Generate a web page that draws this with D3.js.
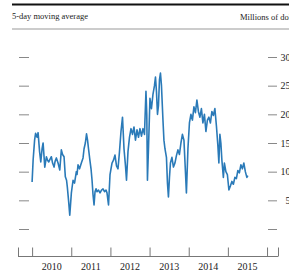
<!DOCTYPE html>
<html><head><meta charset="utf-8">
<script src="https://cdn.jsdelivr.net/npm/d3@7"></script>
<style>html,body{margin:0;padding:0;background:#fff;overflow:hidden}</style>
</head><body>
<svg id="c" width="289" height="274"></svg>
<script>
const title = "5-day moving average";
const unitLabel = "Millions of dollars";
const yTicks = [0, 5, 10, 15, 20, 25, 30];
const yearLabels = ["2010", "2011", "2012", "2013", "2014", "2015"];
const yearTicks = [2010, 2011, 2012, 2013, 2014, 2015, 2016];
const dates = [
2010.000,2010.026,2010.064,2010.089,2010.128,2010.153,2010.191,2010.222,2010.255,2010.281,
2010.324,2010.365,2010.395,2010.426,2010.459,2010.492,2010.523,2010.561,2010.587,2010.620,
2010.663,2010.707,2010.747,2010.778,2010.816,2010.849,2010.880,2010.900,2010.931,2010.962,
2011.003,2011.026,2011.046,2011.084,2011.130,2011.148,2011.173,2011.212,2011.258,2011.301,
2011.327,2011.360,2011.390,2011.416,2011.441,2011.480,2011.505,2011.531,2011.556,2011.582,
2011.607,2011.633,2011.658,2011.696,2011.735,2011.773,2011.811,2011.849,2011.888,2011.913,
2011.952,2011.990,2012.015,2012.041,2012.079,2012.117,2012.156,2012.194,2012.232,2012.270,
2012.309,2012.347,2012.385,2012.411,2012.449,2012.487,2012.526,2012.564,2012.602,2012.640,
2012.679,2012.717,2012.755,2012.793,2012.832,2012.870,2012.908,2012.929,2012.946,2012.972,
2013.010,2013.048,2013.087,2013.125,2013.151,2013.176,2013.202,2013.227,2013.253,2013.278,
2013.304,2013.342,2013.367,2013.393,2013.431,2013.457,2013.482,2013.508,2013.533,2013.571,
2013.610,2013.648,2013.686,2013.724,2013.763,2013.801,2013.839,2013.878,2013.916,2013.941,
2013.980,2014.018,2014.056,2014.094,2014.133,2014.171,2014.209,2014.247,2014.286,2014.324,
2014.362,2014.401,2014.439,2014.477,2014.515,2014.554,2014.592,2014.630,2014.668,2014.707,
2014.745,2014.770,2014.796,2014.821,2014.847,2014.885,2014.911,2014.949,2014.987,2015.026,
2015.064,2015.102,2015.140,2015.179,2015.217,2015.255,2015.293,2015.332,2015.370,2015.408,
2015.446,2015.485,2015.510
];
const values = [
8.2,12,15.5,16.7,16,16.8,13.5,11.7,14,15,
10.8,12.6,12.0,11.7,12.2,12.6,11.5,10.8,11.8,12.4,
11.5,10.3,13.8,13.0,12.6,9.1,8.5,7.3,5,2.4,
6.3,7.5,8.5,8,10,9.5,11.2,10.5,11.5,12.4,
14,15,16.6,15.5,14,11.8,10.5,8.5,6,4.2,
6.5,7,6.5,6.8,6.3,6.8,7,6.5,6.8,6.3,
4.2,9.5,10.5,11.5,12,12.9,11,10.5,13.5,17,
19.5,14,11,8.5,13.5,16,17.5,16.5,17.8,15.5,
17.3,16,17.5,16.2,17.5,16.5,24,20,8.5,14,
22.8,21,23.5,25,26.5,24,20,21.5,26,27.2,
25,19,15.5,14,12.5,8,5.6,9,11.5,12.5,
10.8,11.5,12.8,13.8,13,15,16.5,15.5,10,6.3,
14,18.5,20,19,21.3,20.3,22.5,20.5,19.5,21,
18.5,20,17,19,19.5,18.5,20.5,19.8,21,18,
14.5,11.5,16.5,15,12,9,11.5,10,9.5,6.8,
7.5,8.3,7.8,9,8.8,10.2,9.8,11.2,10.5,11.5,
10,9,9.3
];

const svg = d3.select("#c");
const serif = "'Liberation Serif','DejaVu Serif',serif";
const x = d3.scaleLinear().domain([2009.64, 2016.28]).range([18, 278]);
const y = d3.scaleLinear().domain([0, 30]).range([229, 57]);

// top rules
svg.append("line").attr("x1", 12).attr("x2", 289).attr("y1", 4.5).attr("y2", 4.5)
  .attr("stroke", "#111").attr("stroke-width", 2.2);
svg.append("line").attr("x1", 12).attr("x2", 289).attr("y1", 29).attr("y2", 29)
  .attr("stroke", "#999").attr("stroke-width", 1);
svg.append("text").attr("x", 12).attr("y", 19).text(title)
  .attr("font-family", serif).attr("font-size", 8.5).attr("fill", "#222");
svg.append("text").attr("x", 240).attr("y", 19.5).text(unitLabel)
  .attr("font-family", serif).attr("font-size", 8.5).attr("fill", "#222");

// left ticks (no labels)
const yLeft = d3.axisLeft(y).tickValues(yTicks).tickSize(10).tickFormat("");
svg.append("g").attr("transform", "translate(29,0)").call(yLeft)
  .call(g => g.select(".domain").remove())
  .call(g => g.selectAll("line").attr("stroke", "#888"));

// right ticks with labels
const yRight = d3.axisRight(y).tickValues(yTicks).tickSize(9).tickPadding(3);
svg.append("g").attr("transform", "translate(268,0)").call(yRight)
  .call(g => g.select(".domain").remove())
  .call(g => g.selectAll("line").attr("stroke", "#888"))
  .call(g => g.selectAll("text").attr("font-family", serif).attr("font-size", 10)
    .attr("fill", "#222").attr("text-anchor", "end").attr("x", 22.5)
    .text(d => d === 0 ? "" : d));

// bottom axis
const xAxis = d3.axisTop(x).tickValues([2009.64, ...yearTicks, 2016.28]).tickSize(9).tickFormat("");
svg.append("g").attr("transform", "translate(0,256.5)").call(xAxis)
  .call(g => g.select(".domain").attr("d", `M18,0H278`).attr("stroke", "#777"))
  .call(g => g.selectAll("line").attr("stroke", "#777"));
svg.append("g").selectAll("text").data(yearLabels).join("text")
  .attr("x", d => x(+d + 0.5)).attr("y", 269.5)
  .attr("text-anchor", "middle").attr("font-family", serif).attr("font-size", 10)
  .attr("fill", "#222").text(d => d);

// line
const pts = dates.map((d, i) => [d, values[i]]);
svg.append("path").datum(pts)
  .attr("fill", "none").attr("stroke", "#2a7ab8").attr("stroke-width", 1.6)
  .attr("stroke-linejoin", "round")
  .attr("d", d3.line().x(d => x(d[0])).y(d => y(d[1])));
</script>
</body></html>
